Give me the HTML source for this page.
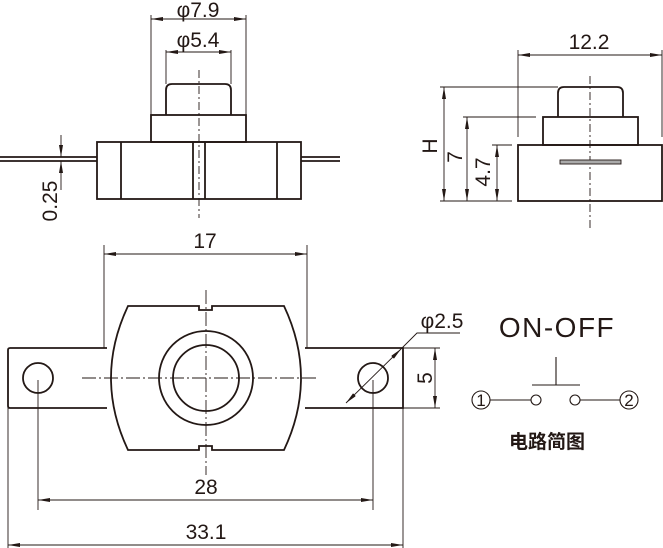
<!DOCTYPE html>
<html><head><meta charset="utf-8"><style>
html,body{margin:0;padding:0;background:#fff;}
svg{display:block;}
text{font-family:"Liberation Sans","Noto Sans CJK SC",sans-serif;fill:#231815;}
</style></head><body>
<svg width="663" height="548" viewBox="0 0 663 548" xmlns="http://www.w3.org/2000/svg">
<defs>
<marker id="a" viewBox="0 0 12 4" refX="12" refY="2" markerWidth="12" markerHeight="4" markerUnits="userSpaceOnUse" orient="auto-start-reverse">
<path d="M0,0 L12,2 L0,4 Z" fill="#231815"/></marker>
</defs>
<g stroke="#231815" fill="none">
<g stroke-width="0.9">
<line x1="151" y1="15" x2="151" y2="115"/><line x1="246" y1="15" x2="246" y2="115"/>
<line x1="166" y1="50" x2="166" y2="84"/><line x1="231" y1="50" x2="231" y2="84"/>
<line x1="151" y1="19" x2="246" y2="19" marker-start="url(#a)" marker-end="url(#a)"/>
<line x1="166" y1="52" x2="231" y2="52" marker-start="url(#a)" marker-end="url(#a)"/>
<line x1="61" y1="135" x2="61" y2="157" marker-end="url(#a)"/>
<line x1="61" y1="190" x2="61" y2="161" marker-end="url(#a)"/>
<line x1="199" y1="70" x2="199" y2="218" stroke-dasharray="8,3,2,3"/>
</g>
<g stroke-width="1.8">
<path d="M166,115 V90 Q166,84 172,84 H225 Q231,84 231,90 V115"/>
<rect x="151" y="115" width="95" height="27"/>
<rect x="97" y="142" width="204" height="57"/>
<line x1="121" y1="142" x2="121" y2="199"/><line x1="277" y1="142" x2="277" y2="199"/>
<line x1="193" y1="142" x2="193" y2="199"/><line x1="205" y1="142" x2="205" y2="199"/>
<path d="M0,157 H97 M0,161 H97 M301,157 H340 M301,161 H340"/>
</g>
<g stroke-width="0.9">
<line x1="518" y1="50" x2="518" y2="137"/><line x1="662" y1="50" x2="662" y2="137"/>
<line x1="518" y1="55" x2="662" y2="55" marker-start="url(#a)" marker-end="url(#a)"/>
<line x1="440" y1="87" x2="558" y2="87"/>
<line x1="463" y1="117" x2="536" y2="117"/>
<line x1="492" y1="145" x2="512" y2="145"/>
<line x1="440" y1="201" x2="512" y2="201"/>
<line x1="444" y1="87" x2="444" y2="201" marker-start="url(#a)" marker-end="url(#a)"/>
<line x1="467" y1="117" x2="467" y2="201" marker-start="url(#a)" marker-end="url(#a)"/>
<line x1="497" y1="145" x2="497" y2="201" marker-start="url(#a)" marker-end="url(#a)"/>
<line x1="590" y1="76" x2="590" y2="230" stroke-dasharray="8,3,2,3"/>
</g>
<g stroke-width="1.8">
<path d="M558,117 V93 Q558,87 564,87 H617 Q623,87 623,93 V117"/>
<rect x="543" y="117" width="95" height="28"/>
<rect x="518" y="145" width="144" height="56"/>
</g>
<rect x="560" y="160" width="61" height="4" fill="#aaa" stroke-width="0.9"/>
<g stroke-width="0.9">
<line x1="104" y1="245" x2="104" y2="348"/><line x1="307" y1="245" x2="307" y2="348"/>
<line x1="104" y1="254" x2="307" y2="254" marker-start="url(#a)" marker-end="url(#a)"/>
<line x1="82" y1="378" x2="318" y2="378" stroke-dasharray="14,3,2,3"/>
<line x1="206" y1="290" x2="206" y2="475" stroke-dasharray="14,3,2,3"/>
<line x1="403" y1="348" x2="440" y2="348"/><line x1="403" y1="408" x2="440" y2="408"/>
<line x1="435" y1="348" x2="435" y2="408" marker-start="url(#a)" marker-end="url(#a)"/>
<line x1="346" y1="403" x2="401" y2="349" marker-start="url(#a)" marker-end="url(#a)"/>
<path d="M401,349 L417,333 H460"/>
<line x1="38" y1="380" x2="38" y2="510"/><line x1="373" y1="380" x2="373" y2="510"/>
<line x1="38" y1="500" x2="373" y2="500" marker-start="url(#a)" marker-end="url(#a)"/>
<line x1="8" y1="408" x2="8" y2="548"/><line x1="403" y1="408" x2="403" y2="548"/>
<line x1="8" y1="545" x2="403" y2="545" marker-start="url(#a)" marker-end="url(#a)"/>
</g>
<g stroke-width="1.8">
<path d="M107,348 H10 Q8,348 8,350 V406 Q8,408 10,408 H107"/>
<path d="M305,348 H403 V408 H305"/>
<path d="M128,306 H199 V310 H212 V306 H284 Q318,378 284,450 H212 V446 H199 V450 H128 Q94,378 128,306 Z"/>
<circle cx="206" cy="378" r="47"/><circle cx="206" cy="378" r="33"/>
<circle cx="38" cy="378" r="15"/><circle cx="373" cy="378" r="15"/>
</g>
<g stroke-width="1.1">
<path d="M556,357 V385 M532,385 H580 M490,400 H531 M580,400 H620"/>
<circle cx="536" cy="400" r="5"/><circle cx="575" cy="400" r="5"/>
<circle cx="481" cy="400" r="9"/><circle cx="629" cy="400" r="9"/>
</g>
</g>
<g font-size="21">
<text x="198" y="17" text-anchor="middle">φ7.9</text>
<text x="198" y="47" text-anchor="middle">φ5.4</text>
<text x="589" y="49" text-anchor="middle">12.2</text>
<text x="205" y="248" text-anchor="middle">17</text>
<text x="442" y="328" text-anchor="middle">φ2.5</text>
<text x="206" y="494" text-anchor="middle">28</text>
<text x="206" y="539" text-anchor="middle">33.1</text>
<text transform="translate(57,201) rotate(-90)" text-anchor="middle">0.25</text>
<text transform="translate(437,146) rotate(-90)" text-anchor="middle">H</text>
<text transform="translate(462,157) rotate(-90)" text-anchor="middle">7</text>
<text transform="translate(490,172) rotate(-90)" text-anchor="middle">4.7</text>
<text transform="translate(432,378) rotate(-90)" text-anchor="middle">5</text>
</g>
<text x="557" y="337" font-size="28" text-anchor="middle" letter-spacing="1.5">ON-OFF</text>
<text x="481" y="406" font-size="17" text-anchor="middle">1</text>
<text x="629" y="406" font-size="17" text-anchor="middle">2</text>
<text x="547" y="448" font-size="19" font-weight="bold" text-anchor="middle">电路简图</text>
</svg>
</body></html>
